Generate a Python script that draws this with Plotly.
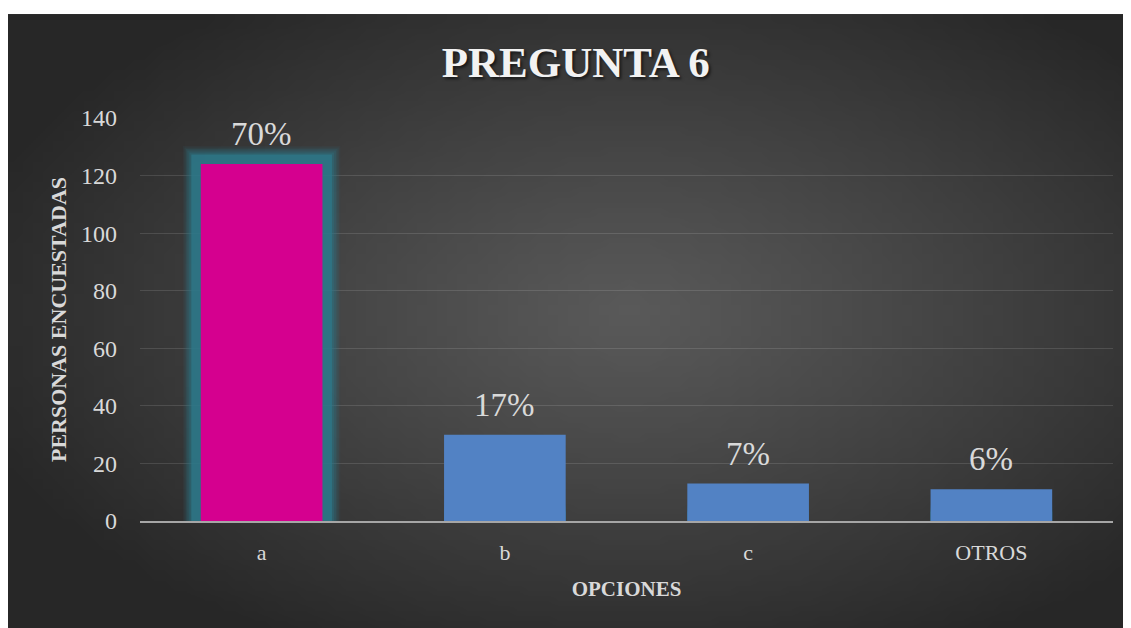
import base64
import struct
import zlib

import numpy as np
import plotly.graph_objects as go

categorias = ["a", "b", "c", "OTROS"]
personas = [124, 30, 13, 11]
porcentajes = ["70%", "17%", "7%", "6%"]
destacada = "a"

FONT = "Liberation Serif"
TXT = "#d9d9d9"


def radial_png(w, h):
    # fondo gris con degradado radial (estilo Excel)
    yy, xx = np.mgrid[0:h, 0:w]
    dx = (xx / (w - 1) - 0.55) / 0.62
    dy = (yy / (h - 1) - 0.48) / 0.62
    t = np.clip(np.sqrt(dx ** 2 + dy ** 2), 0, 1) ** 1.1
    v = (0x5a + (0x27 - 0x5a) * t).astype(np.uint8)
    rgb = np.stack([v, v, v], axis=-1)
    raw = b"".join(b"\x00" + rgb[r].tobytes() for r in range(h))

    def chunk(tag, data):
        c = struct.pack(">I", len(data)) + tag + data
        return c + struct.pack(">I", zlib.crc32(tag + data) & 0xffffffff)

    png = b"\x89PNG\r\n\x1a\n"
    png += chunk(b"IHDR", struct.pack(">IIBBBBB", w, h, 8, 2, 0, 0, 0))
    png += chunk(b"IDAT", zlib.compress(raw, 9))
    png += chunk(b"IEND", b"")
    return "data:image/png;base64," + base64.b64encode(png).decode()


colores = ["#d5008f" if c == destacada else "#5282c4" for c in categorias]
brillo_y = [v if c == destacada else 0 for c, v in zip(categorias, personas)]

fig = go.Figure()

# halo turquesa difuso alrededor de la barra destacada
for w, a in [(36, 0.08), (33, 0.12), (30, 0.16), (27, 0.22), (23, 0.32), (19, 0.75)]:
    col = "rgba(45,120,138,%s)" % a
    fig.add_trace(go.Bar(
        x=categorias, y=brillo_y, width=0.5,
        marker=dict(color=col, line=dict(color=col, width=w)),
        hoverinfo="skip", showlegend=False,
    ))

fig.add_trace(go.Bar(
    x=categorias, y=personas, width=0.5,
    marker=dict(color=colores, line=dict(width=0)),
    showlegend=False,
))

for c, v, p in zip(categorias, personas, porcentajes):
    fig.add_annotation(x=c, y=v, text=p, showarrow=False, yanchor="bottom",
                       yshift=10, font=dict(family=FONT, size=33, color=TXT))

fig.add_layout_image(
    source=radial_png(112, 61), xref="paper", yref="paper",
    x=-0.1357, y=1.258, sizex=1.1624, sizey=1.5434,
    sizing="stretch", xanchor="left", yanchor="top", layer="below",
)

fig.update_layout(
    width=1131, height=628,
    margin=dict(l=132, r=26, t=110, b=115),
    paper_bgcolor="white",
    plot_bgcolor="rgba(0,0,0,0)",
    barmode="overlay",
    title=dict(text="<b>PREGUNTA 6</b>", x=0.502, xanchor="center",
               y=0.914, yanchor="middle",
               font=dict(family=FONT, size=43, color="#f2f2f2",
                         shadow="2px 2px 3px rgba(0,0,0,0.6)")),
    font=dict(family=FONT, color=TXT),
)

fig.update_xaxes(
    showgrid=False, showline=True, linecolor="#a6a6a6", linewidth=2,
    tickfont=dict(family=FONT, size=22, color=TXT), ticklabelstandoff=11,
    title=dict(text="<b>OPCIONES</b>", standoff=17,
               font=dict(family=FONT, size=21, color=TXT)),
)
fig.update_yaxes(
    range=[0, 140], dtick=20, showgrid=True,
    gridcolor="rgba(255,255,255,0.12)", gridwidth=1, zeroline=False,
    showline=False, ticklabelstandoff=22,
    tickfont=dict(family=FONT, size=24, color=TXT),
    title=dict(text="<b>PERSONAS ENCUESTADAS</b>", standoff=8,
               font=dict(family=FONT, size=22, color=TXT)),
)

fig.write_html("out.html")
